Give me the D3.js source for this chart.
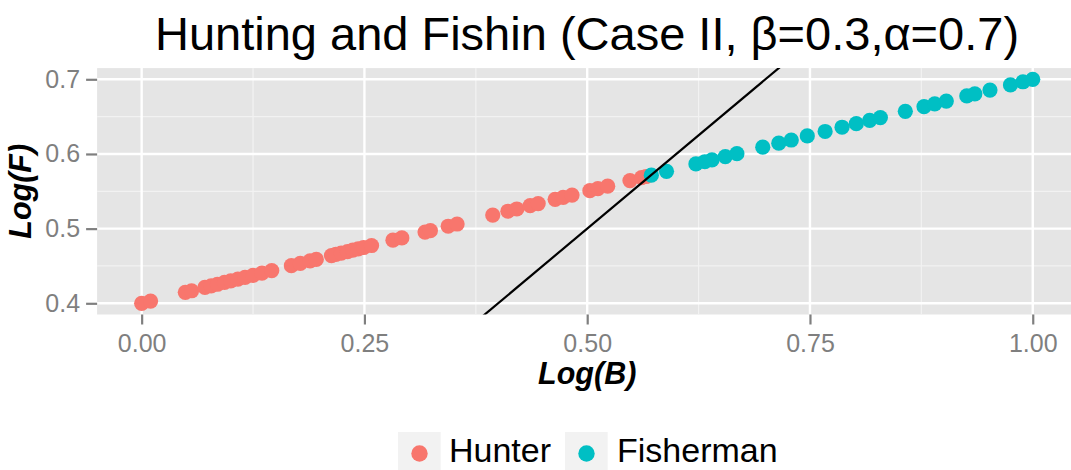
<!DOCTYPE html>
<html><head><meta charset="utf-8">
<script src="https://cdn.jsdelivr.net/npm/d3@7"></script>
<style>body{margin:0;background:#fff}svg{display:block}</style>
</head><body>
<svg id="c" width="1071" height="470"></svg>
<script>
const title = "Hunting and Fishin (Case II, \u03B2=0.3,\u03B1=0.7)";
const groups = ["Hunter", "Fisherman"];
const hunterB = [0, 0.01, 0.049, 0.056, 0.071, 0.078, 0.085, 0.093, 0.1, 0.108, 0.116, 0.125, 0.135, 0.146, 0.168, 0.178, 0.189, 0.196, 0.213, 0.218, 0.224, 0.231, 0.237, 0.243, 0.249, 0.258, 0.282, 0.292, 0.318, 0.324, 0.344, 0.354, 0.394, 0.411, 0.421, 0.436, 0.445, 0.464, 0.473, 0.483, 0.503, 0.512, 0.523, 0.548, 0.561, 0.566];
const hunterF = [0.4, 0.403, 0.4147, 0.4168, 0.4213, 0.4234, 0.4255, 0.4279, 0.43, 0.4324, 0.4348, 0.4375, 0.4405, 0.4438, 0.4504, 0.4534, 0.4567, 0.4588, 0.4639, 0.4654, 0.4672, 0.4693, 0.4711, 0.4729, 0.4747, 0.4774, 0.4846, 0.4876, 0.4954, 0.4972, 0.5032, 0.5062, 0.5182, 0.5233, 0.5263, 0.5308, 0.5335, 0.5392, 0.5419, 0.5449, 0.5509, 0.5536, 0.5569, 0.5644, 0.5683, 0.5698];
const fisherB = [0.572, 0.589, 0.622, 0.632, 0.64, 0.655, 0.668, 0.697, 0.715, 0.729, 0.747, 0.767, 0.786, 0.802, 0.817, 0.829, 0.857, 0.878, 0.89, 0.903, 0.926, 0.935, 0.952, 0.975, 0.989, 1.0];
const fisherF = [0.5716, 0.5767, 0.5866, 0.5896, 0.592, 0.5965, 0.6004, 0.6091, 0.6145, 0.6187, 0.6241, 0.6301, 0.6358, 0.6406, 0.6451, 0.6487, 0.6571, 0.6634, 0.667, 0.6709, 0.6778, 0.6805, 0.6856, 0.6925, 0.6967, 0.7];
const lineEnds = [0, 1]; // Log(F) = Log(B)
const xTicks = [0, 0.25, 0.5, 0.75, 1.0];
const xMinor = [0.125, 0.375, 0.625, 0.875];
const yTicks = [0.4, 0.5, 0.6, 0.7];
const yMinor = [0.45, 0.55, 0.65];
const colors = ["#F8766D", "#00BFC4"];

const svg = d3.select("#c");
const font = "'Liberation Sans', Arial, Helvetica, sans-serif";
const P = {l: 97.1, t: 68.1, r: 1077.3, b: 314.5};
const xd = [0, 1], yd = [0.4, 0.7];
const xs = d3.scaleLinear().domain([xd[0] - 0.05, xd[1] + 0.05]).range([P.l, P.r]);
const ys = d3.scaleLinear().domain([yd[0] - 0.015, yd[1] + 0.015]).range([P.b, P.t]);

svg.append("defs").append("clipPath").attr("id", "pc").append("rect")
  .attr("x", P.l).attr("y", P.t).attr("width", P.r - P.l).attr("height", P.b - P.t);

svg.append("rect").attr("x", P.l).attr("y", P.t).attr("width", P.r - P.l).attr("height", P.b - P.t).attr("fill", "#E5E5E5");
const g = svg.append("g").attr("clip-path", "url(#pc)");
g.selectAll(".xm").data(xMinor).enter().append("line").attr("x1", d => xs(d)).attr("x2", d => xs(d)).attr("y1", P.t).attr("y2", P.b).attr("stroke", "#F2F2F2").attr("stroke-width", 1.2);
g.selectAll(".ym").data(yMinor).enter().append("line").attr("y1", d => ys(d)).attr("y2", d => ys(d)).attr("x1", P.l).attr("x2", P.r).attr("stroke", "#F2F2F2").attr("stroke-width", 1.2);
g.selectAll(".xM").data(xTicks).enter().append("line").attr("x1", d => xs(d)).attr("x2", d => xs(d)).attr("y1", P.t).attr("y2", P.b).attr("stroke", "#fff").attr("stroke-width", 2.4);
g.selectAll(".yM").data(yTicks).enter().append("line").attr("y1", d => ys(d)).attr("y2", d => ys(d)).attr("x1", P.l).attr("x2", P.r).attr("stroke", "#fff").attr("stroke-width", 2.4);

const pts = [];
hunterB.forEach((b, i) => pts.push({b, f: hunterF[i], k: 0}));
fisherB.forEach((b, i) => pts.push({b, f: fisherF[i], k: 1}));
g.selectAll("circle.p").data(pts).enter().append("circle")
  .attr("cx", d => xs(d.b)).attr("cy", d => ys(d.f)).attr("r", 7.6).attr("fill", d => colors[d.k]);

g.append("line").attr("x1", xs(lineEnds[0])).attr("y1", ys(lineEnds[0])).attr("x2", xs(lineEnds[1])).attr("y2", ys(lineEnds[1]))
  .attr("stroke", "#000").attr("stroke-width", 2.2);

// axes
const xa = svg.append("g").attr("transform", `translate(0,${P.b})`)
  .call(d3.axisBottom(xs).tickValues(xTicks).tickFormat(d3.format(".2f")).tickSize(10).tickPadding(10));
const ya = svg.append("g").attr("transform", `translate(${P.l},0)`)
  .call(d3.axisLeft(ys).tickValues(yTicks).tickFormat(d3.format(".1f")).tickSize(11).tickPadding(6));
[xa, ya].forEach(a => {
  a.select(".domain").remove();
  a.selectAll(".tick line").attr("stroke", "#7F7F7F").attr("stroke-width", 2.2);
  a.selectAll(".tick text").attr("fill", "#7F7F7F").style("font-family", font).style("font-size", "25px");
});

svg.append("text").attr("x", 587).attr("y", 49.5).attr("text-anchor", "middle")
  .style("font-family", font).style("font-size", "47px").attr("fill", "#000").text(title);
svg.append("text").attr("x", xs(0.5)).attr("y", 383.5).attr("text-anchor", "middle")
  .style("font-family", font).style("font-size", "30.5px").style("font-weight", "bold").style("font-style", "italic").text("Log(B)");
svg.append("text").attr("transform", `translate(31,${(P.t + P.b) / 2}) rotate(-90)`).attr("text-anchor", "middle")
  .style("font-family", font).style("font-size", "30.5px").style("font-weight", "bold").style("font-style", "italic").text("Log(F)");

// legend
const lg = svg.append("g");
const keyX = [398, 565], txtX = [449, 617];
groups.forEach((n, i) => {
  lg.append("rect").attr("x", keyX[i]).attr("y", 432).attr("width", 42.7).attr("height", 42.7).attr("fill", "#F2F2F2");
  lg.append("circle").attr("cx", keyX[i] + 21.5).attr("cy", 453.5).attr("r", 8.2).attr("fill", colors[i]);
  lg.append("text").attr("x", txtX[i]).attr("y", 462.3).style("font-family", font).style("font-size", "34px").attr("fill", "#000").text(n);
});
</script>
</body></html>
